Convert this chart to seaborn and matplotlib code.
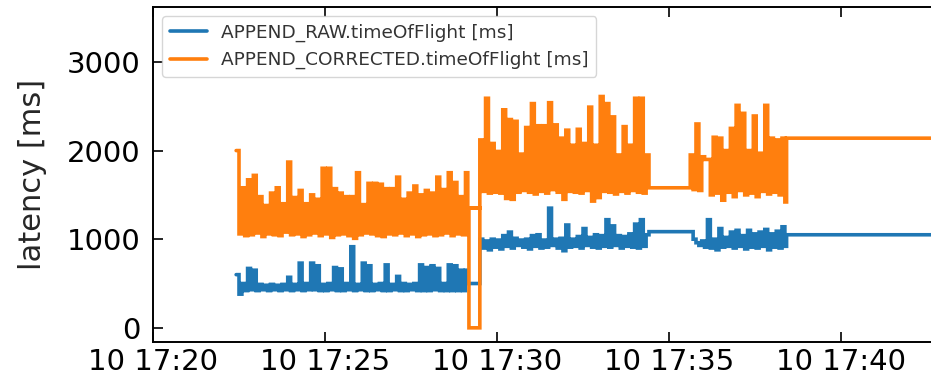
import matplotlib
matplotlib.use("Agg")
import matplotlib.pyplot as plt
import matplotlib.dates as mdates
import numpy as np
import pandas as pd
import seaborn as sns

# ---------------------------------------------------------------------------
# Data: per-message time of flight, sampled every 5 s while messages flow
# ---------------------------------------------------------------------------
SERIES = ["APPEND_RAW.timeOfFlight [ms]", "APPEND_CORRECTED.timeOfFlight [ms]"]
COLORS = ["#1f77b4", "#ff7f0e"]
DAY = "2017-05-10"
STEP_S = 5

# burst 1
burst1_start = "17:22:25"
raw_burst1 = [
    600, 380, 500, 420, 670, 430, 650, 420, 490, 430, 480, 420, 490, 430, 480, 420, 490, 430, 570, 420,
    490, 430, 730, 420, 500, 430, 730, 430, 700, 420, 490, 420, 500, 430, 680, 420, 665, 420, 500, 430,
    915, 420, 490, 430, 730, 420, 700, 420, 490, 430, 500, 420, 710, 420, 490, 430, 580, 420, 500, 420,
    490, 430, 500, 420, 710, 420, 680, 420, 700, 430, 670, 420, 500, 420, 710, 420, 700, 420, 650, 420,
    650,
]
corr_burst1 = [
    2000, 1060, 1580, 1040, 1670, 1050, 1720, 1070, 1480, 1030, 1380, 1060, 1520, 1050, 1580, 1040, 1400, 1080, 1870, 1050,
    1470, 1060, 1550, 1030, 1400, 1050, 1500, 1070, 1450, 1040, 1800, 1060, 1800, 1020, 1570, 1050, 1520, 1060, 1480, 1040,
    1480, 1010, 1750, 1050, 1390, 1070, 1630, 1060, 1630, 1040, 1620, 1030, 1570, 1060, 1570, 1050, 1700, 1070, 1450, 1040,
    1520, 1060, 1600, 1030, 1500, 1050, 1550, 1060, 1520, 1040, 1700, 1050, 1560, 1070, 1750, 1040, 1640, 1060, 1480, 1050,
    1750,
]

# restart: raw keeps its last value, corrected entries arrive out of order
raw_gap_times = ["17:29:08"]
raw_gap = [500]
corr_gap_times = ["17:29:09", "17:29:30", "17:29:11"]
corr_gap = [1350, 0, 1350]

# burst 2
burst2_start = "17:29:30"
raw_burst2 = [
    1000, 900, 980, 880, 1000, 910, 990, 890, 1040, 920, 1080, 900, 1010, 930, 990, 910, 1000, 890, 1040, 920,
    1050, 900, 990, 910, 1350, 930, 1000, 900, 1010, 870, 1160, 910, 1000, 920, 1030, 900, 1120, 930, 1020, 910,
    1050, 900, 1040, 920, 1220, 910, 1150, 930, 1040, 900, 1030, 920, 1060, 910, 1170, 900, 1220, 920, 1050,
]
corr_burst2 = [
    2120, 1540, 2590, 1520, 2080, 1530, 1990, 1520, 2460, 1460, 2350, 1450, 2330, 1530, 1960, 1550, 2260, 1530, 2530, 1510,
    2280, 1540, 2280, 1520, 2540, 1560, 2290, 1530, 2140, 1450, 2230, 1540, 2060, 1530, 2240, 1520, 2080, 1550, 2490, 1430,
    2060, 1470, 2610, 1540, 2530, 1530, 2380, 1510, 1950, 1540, 2270, 1520, 2060, 1550, 2590, 1530, 2590, 1520, 1950,
]

# idle between bursts 2 and 3
idle1_time = "17:34:25"
raw_idle1 = 1085
corr_idle1 = 1580

# burst 3
burst3_start = "17:35:37"
raw_burst3 = [
    1085, 1000, 960, 930, 980, 910, 1220, 900, 1000, 880, 1120, 910, 1020, 920, 1080, 900, 1100, 920,
    1040, 890, 1100, 910, 1060, 900, 1080, 920, 1110, 880, 1060, 910, 1090, 900, 1140, 920,
]
corr_burst3 = [
    1950, 1560, 2300, 1550, 1930, 1900, 1900, 1500, 2150, 1520, 2140, 1440, 2000, 1530, 2250, 1480, 2510, 1550,
    2420, 1500, 2000, 1520, 2390, 1480, 1970, 1540, 2510, 1510, 2140, 1530, 2120, 1500, 2140, 1420,
]

# idle after burst 3
idle2_times = ["17:38:25", "17:44:00"]
raw_idle2 = [1050, 1050]
corr_idle2 = [2140, 2140]

Y_TICKS = [0, 1000, 2000, 3000]


def at(clock):
    return pd.Timestamp(f"{DAY} {clock}")


def burst_times(start, values):
    return [at(start) + pd.Timedelta(seconds=STEP_S * i) for i in range(len(values))]


def series_frame(name, parts):
    times, values = [], []
    for t, v in parts:
        times += list(t)
        values += list(v)
    return pd.DataFrame({"time": times, "latency": values, "series": name})


raw = series_frame(SERIES[0], [
    (burst_times(burst1_start, raw_burst1), raw_burst1),
    ([at(t) for t in raw_gap_times], raw_gap),
    (burst_times(burst2_start, raw_burst2), raw_burst2),
    ([at(idle1_time)], [raw_idle1]),
    (burst_times(burst3_start, raw_burst3), raw_burst3),
    ([at(t) for t in idle2_times], raw_idle2),
])
corr = series_frame(SERIES[1], [
    (burst_times(burst1_start, corr_burst1), corr_burst1),
    ([at(t) for t in corr_gap_times], corr_gap),
    (burst_times(burst2_start, corr_burst2), corr_burst2),
    ([at(idle1_time)], [corr_idle1]),
    (burst_times(burst3_start, corr_burst3), corr_burst3),
    ([at(t) for t in idle2_times], corr_idle2),
])
df = pd.concat([raw, corr], ignore_index=True)

# ---------------------------------------------------------------------------
# Plot
# ---------------------------------------------------------------------------
sns.set_style("ticks", {"xtick.direction": "in", "ytick.direction": "in"})
plt.rcParams["font.family"] = ["DejaVu Sans"]
plt.rcParams["path.simplify"] = False  # keep every sample of the dense bursts

fig = plt.figure(figsize=(9.31, 3.82), dpi=100)
ax = fig.add_axes([153 / 931, 40 / 382, 797 / 931, 335 / 382])

sns.lineplot(
    data=df, x="time", y="latency", hue="series",
    palette=dict(zip(SERIES, COLORS)),
    sort=False, estimator=None, drawstyle="steps-post",
    linewidth=2.6, snap=False, solid_joinstyle="miter",
    legend=False, ax=ax,
)

ax.set_xlim(at("17:20:00"), at("17:43:10"))
ax.set_ylim(-160, 3620)
ax.set_yticks(Y_TICKS)
ax.xaxis.set_major_locator(mdates.MinuteLocator(byminute=range(0, 60, 5)))
ax.xaxis.set_major_formatter(mdates.DateFormatter("%d %H:%M"))

ax.set_xlabel("")
ax.set_ylabel("latency [ms]", fontsize=22)
ax.yaxis.set_label_coords(-0.133, 0.5)

ax.tick_params(which="major", direction="in", top=True, right=True,
               length=7, width=1.2, labelsize=21, colors="black")
ax.tick_params(axis="y", pad=9)
ax.tick_params(axis="x", pad=4)
for s in ax.spines.values():
    s.set_linewidth(1.4)
    s.set_color("black")

ax.legend(handles=ax.lines[:2], labels=SERIES, loc="upper left", fontsize=13.3,
          frameon=True, fancybox=True, framealpha=0.8, edgecolor="0.8",
          labelcolor="0.2", borderaxespad=0.5)

fig.savefig("out.png", dpi=100)
